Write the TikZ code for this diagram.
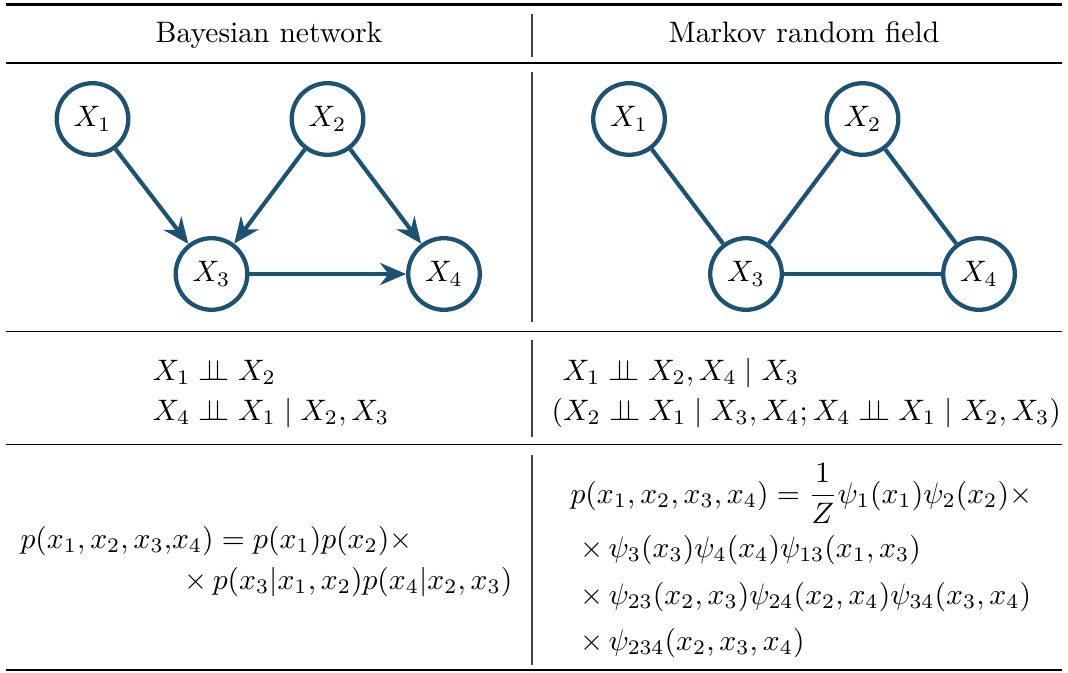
\documentclass[tikz,border=0pt]{standalone}
\usetikzlibrary{arrows.meta}
\definecolor{nodeblue}{RGB}{28,83,117}
\newcommand{\indepsym}{\mathrel{\perp\!\!\!\perp}}
\begin{document}
\begin{tikzpicture}[x=0.338pt,y=-0.338pt,
  var/.style={circle,draw=nodeblue,line width=1.45pt,minimum size=24.2pt,inner sep=0pt,fill=white},
  edgeline/.style={draw=nodeblue,line width=1.4pt},
  arr/.style={edgeline,-{Stealth[length=8.8pt,width=7.5pt]}},
  heavyrule/.style={line width=0.8pt},
  midrule/.style={line width=0.6pt},
  thinrule/.style={line width=0.45pt},
  vsep/.style={line width=0.5pt,black!75},
  txtw/.style={inner sep=0pt,anchor=base west},
  txte/.style={inner sep=0pt,anchor=base east},
  txtc/.style={inner sep=0pt,anchor=base}]
\useasboundingbox (0,0) rectangle (1068,673);
% rules
\draw[heavyrule] (6,4.5) -- (1062,4.5);
\draw[midrule] (6,62.7) -- (1062,62.7);
\draw[thinrule] (6,331.5) -- (1062,331.5);
\draw[thinrule] (6,444.5) -- (1062,444.5);
\draw[heavyrule] (6,670) -- (1062,670);
% vertical separators
\draw[vsep] (532,14) -- (532,57);
\draw[vsep] (532,72) -- (532,322);
\draw[vsep] (532,340) -- (532,437);
\draw[vsep] (532,455) -- (532,665);
% headers
\node[txtc] (hb) at (269,43) {Bayesian network};
\node[txtc] (hm) at (804,43) {Markov random field};
% Bayesian network
\node[var] (b1) at (92.5,119) {$X_1$};
\node[var] (b2) at (327.5,119) {$X_2$};
\node[var] (b3) at (211.5,274) {$X_3$};
\node[var] (b4) at (444,274) {$X_4$};
\draw[arr] (b1) -- (b3);
\draw[arr] (b2) -- (b3);
\draw[arr] (b2) -- (b4);
\draw[arr] (b3) -- (b4);
% Markov random field
\node[var] (m1) at (629,119) {$X_1$};
\node[var] (m2) at (862.5,119) {$X_2$};
\node[var] (m3) at (746,274) {$X_3$};
\node[var] (m4) at (979,274) {$X_4$};
\draw[edgeline] (m1) -- (m3);
\draw[edgeline] (m2) -- (m3);
\draw[edgeline] (m2) -- (m4);
\draw[edgeline] (m3) -- (m4);
% independencies
\node[txtw] (ib1) at (152,380) {$X_1 \indepsym X_2$};
\node[txtw] (ib2) at (152,420) {$X_4 \indepsym X_1 \mid X_2, X_3$};
\node[txtw] (im1) at (562,380) {$X_1 \indepsym X_2, X_4 \mid X_3$};
\node[txtw] (im2) at (551,420) {$(X_2 \indepsym X_1 \mid X_3, X_4; X_4 \indepsym X_1 \mid X_2, X_3)$};
% factorizations
\node[txtw] (fb1) at (20,548) {$p(x_1, x_2, x_3{,}x_4) = p(x_1)p(x_2)\times$};
\node[txte] (fb2) at (513,589) {$\times\, p(x_3|x_1, x_2)p(x_4|x_2, x_3)$};
\node[txtw] (fm1) at (570,503) {$\displaystyle p(x_1, x_2, x_3, x_4) = \frac{1}{Z}\psi_1(x_1)\psi_2(x_2)\times$};
\node[txtw] (fm2) at (580,557) {$\times\, \psi_3(x_3)\psi_4(x_4)\psi_{13}(x_1, x_3)$};
\node[txtw] (fm3) at (580,604) {$\times\, \psi_{23}(x_2, x_3)\psi_{24}(x_2, x_4)\psi_{34}(x_3, x_4)$};
\node[txtw] (fm4) at (580,650) {$\times\, \psi_{234}(x_2, x_3, x_4)$};
\end{tikzpicture}
\end{document}
